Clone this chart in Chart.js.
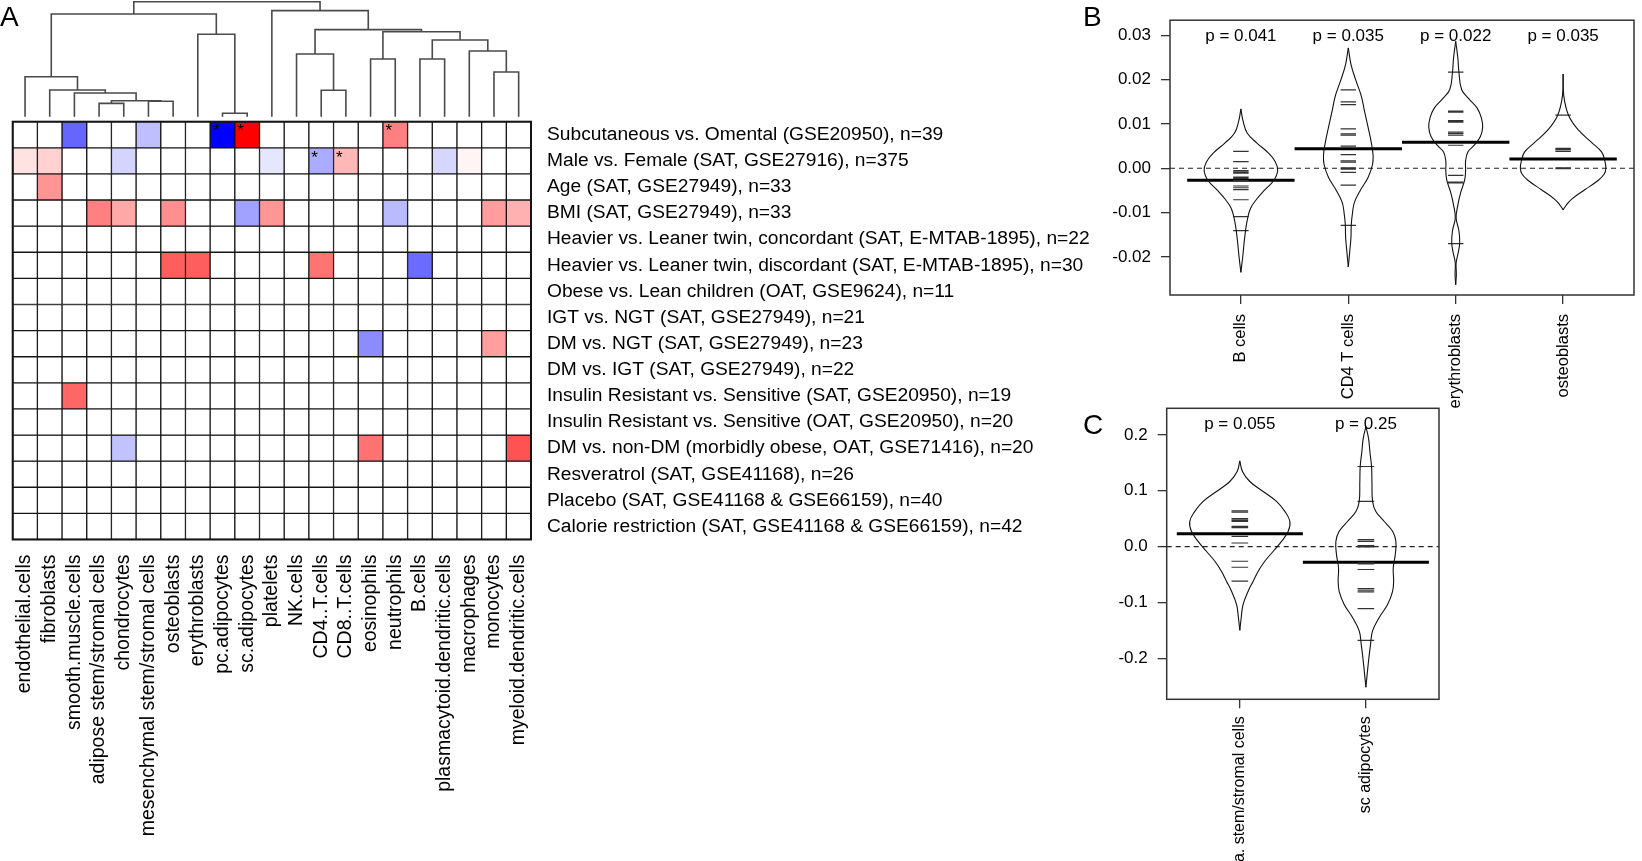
<!DOCTYPE html>
<html><head><meta charset="utf-8">
<script src="https://cdn.jsdelivr.net/npm/chart.js@4.4.1/dist/chart.umd.min.js"></script>
<style>
html,body{margin:0;padding:0;background:#fff;width:1642px;height:861px;overflow:hidden;position:relative;}
canvas{position:absolute;left:0;top:0;}
.lab{position:absolute;font-family:"Liberation Sans",Arial,sans-serif;font-size:28px;color:#000;line-height:1;}
</style></head><body>
<canvas id="dendro" width="1642" height="861"></canvas>
<canvas id="heat" width="1642" height="861"></canvas>
<canvas id="panelB" width="1642" height="861"></canvas>
<canvas id="panelC" width="1642" height="861"></canvas>
<div class="lab" style="left:0px;top:3px">A</div>
<div class="lab" style="left:1083px;top:3px">B</div>
<div class="lab" style="left:1083px;top:411px">C</div>
<script>
// ---------------- DATA ----------------
const columnLabels = ['endothelial.cells','fibroblasts','smooth.muscle.cells','adipose stem/stromal cells','chondrocytes',
  'mesenchymal stem/stromal cells','osteoblasts','erythroblasts','pc.adipocytes','sc.adipocytes','platelets','NK.cells',
  'CD4..T.cells','CD8..T.cells','eosinophils','neutrophils','B.cells','plasmacytoid.dendritic.cells','macrophages',
  'monocytes','myeloid.dendritic.cells'];
const rowLabels = ['Subcutaneous vs. Omental (GSE20950), n=39','Male vs. Female (SAT, GSE27916), n=375',
  'Age (SAT, GSE27949), n=33','BMI (SAT, GSE27949), n=33','Heavier vs. Leaner twin, concordant (SAT, E-MTAB-1895), n=22',
  'Heavier vs. Leaner twin, discordant (SAT, E-MTAB-1895), n=30','Obese vs. Lean children (OAT, GSE9624), n=11',
  'IGT vs. NGT (SAT, GSE27949), n=21','DM vs. NGT (SAT, GSE27949), n=23','DM vs. IGT (SAT, GSE27949), n=22',
  'Insulin Resistant vs. Sensitive (SAT, GSE20950), n=19','Insulin Resistant vs. Sensitive (OAT, GSE20950), n=20',
  'DM vs. non-DM (morbidly obese, OAT, GSE71416), n=20','Resveratrol (SAT, GSE41168), n=26',
  'Placebo (SAT, GSE41168 & GSE66159), n=40','Calorie restriction (SAT, GSE41168 & GSE66159), n=42'];
// signed scaled effect per cell (row x column), -1 = blue, +1 = red
const cellValues = [
  [0,0,-0.6,0,0,-0.25,0,0,-1,1,0,0,0,0,0,0.5,0,0,0,0,0],
  [0.11,0.18,0,0,-0.17,0,0,0,0,0,-0.1,0,-0.33,0.28,0,0,0,-0.16,0.04,0,0],
  [0,0.42,0,0,0,0,0,0,0,0,0,0,0,0,0,0,0,0,0,0,0],
  [0,0,0,0.5,0.34,0,0.44,0,0,-0.37,0.41,0,0,0,0,-0.27,0,0,0,0.39,0.31],
  [0,0,0,0,0,0,0,0,0,0,0,0,0,0,0,0,0,0,0,0,0],
  [0,0,0,0,0,0,0.63,0.63,0,0,0,0,0.55,0,0,0,-0.58,0,0,0,0],
  [0,0,0,0,0,0,0,0,0,0,0,0,0,0,0,0,0,0,0,0,0],
  [0,0,0,0,0,0,0,0,0,0,0,0,0,0,0,0,0,0,0,0,0],
  [0,0,0,0,0,0,0,0,0,0,0,0,0,0,-0.45,0,0,0,0,0.38,0],
  [0,0,0,0,0,0,0,0,0,0,0,0,0,0,0,0,0,0,0,0,0],
  [0,0,0.6,0,0,0,0,0,0,0,0,0,0,0,0,0,0,0,0,0,0],
  [0,0,0,0,0,0,0,0,0,0,0,0,0,0,0,0,0,0,0,0,0],
  [0,0,0,0,-0.24,0,0,0,0,0,0,0,0,0,0.55,0,0,0,0,0,0.68],
  [0,0,0,0,0,0,0,0,0,0,0,0,0,0,0,0,0,0,0,0,0],
  [0,0,0,0,0,0,0,0,0,0,0,0,0,0,0,0,0,0,0,0,0],
  [0,0,0,0,0,0,0,0,0,0,0,0,0,0,0,0,0,0,0,0,0]
];
const starCells = [[0,8],[0,9],[0,15],[1,12],[1,13]];
// hclust-style merges: negative = leaf (column index+1), positive = earlier merge; third = height (0..1)
const dendroMerges = [
  [-9,-10,0.03],[-4,-5,0.116],[-6,-7,0.134],[2,3,0.139],[-3,4,0.206],[-2,5,0.232],[-1,6,0.348],
  [-8,1,0.717],[7,8,0.893],[-13,-14,0.23],[-12,10,0.545],[-15,-16,0.502],[-17,-18,0.502],
  [-20,-21,0.389],[-19,14,0.571],[13,15,0.667],[12,16,0.739],[11,17,0.757],[-11,18,0.922],[9,19,1.0]
];

// Panel B (beanplots)
const catsB = ['B cells','CD4 T cells','erythroblasts','osteoblasts'];
const pValuesB = ['p = 0.041','p = 0.035','p = 0.022','p = 0.035'];
const meansB = [-0.0027,0.0044,0.0059,0.0021];
const obsBcells = [0.0038,0.0015,-0.0005,-0.0008,-0.0011,-0.002,-0.0023,-0.0028,-0.004,-0.0044,-0.0048,-0.0071,-0.0109,-0.0141];
const obsCD4 = [0.0177,0.015,0.0144,0.0089,0.0078,0.0075,0.005,0.0031,0.0017,0.0014,0.0001,-0.0002,-0.0009,-0.0038,-0.0129];
const obsEry = [0.0217,0.0129,0.0127,0.0108,0.0106,0.0104,0.0082,0.0079,0.0075,0.0052,-0.0016,-0.0031,-0.0033,-0.017];
const obsOst = [0.012,0.0045,0.0042,0.0038,0.0001,0,-0.0001];
// bean outline: [value, half-width in category units]
const beanBcells = [[0.0134,0],[0.0107,0.02],[0.0079,0.06],[0.0057,0.15],[0.0036,0.25],[0.0015,0.32],[-0.0006,0.342],[-0.0028,0.304],[-0.0049,0.222],[-0.007,0.146],[-0.0091,0.089],[-0.012,0.057],[-0.0155,0.036],[-0.0198,0.018],[-0.0235,0]];
const beanCD4 = [[0.0272,0],[0.0235,0.025],[0.0199,0.07],[0.0164,0.12],[0.0128,0.152],[0.0093,0.184],[0.0057,0.215],[0.0029,0.231],[0.0008,0.225],[-0.0021,0.184],[-0.0049,0.114],[-0.0077,0.057],[-0.0099,0.04],[-0.0127,0.028],[-0.0155,0.025],[-0.0184,0.015],[-0.0223,0]];
const beanEry = [[0.0287,0],[0.0249,0.02],[0.0217,0.03],[0.0178,0.055],[0.0157,0.123],[0.0136,0.2],[0.0114,0.239],[0.0093,0.251],[0.0072,0.23],[0.0051,0.168],[0.0037,0.113],[0.0016,0.092],[-0.0006,0.092],[-0.0027,0.083],[-0.0055,0.046],[-0.0083,0.02],[-0.0112,0.004],[-0.0141,0.03],[-0.0168,0.037],[-0.0189,0.025],[-0.0214,0.004],[-0.024,0.006],[-0.0263,0]];
const beanOst = [[0.0213,0],[0.0164,0.006],[0.012,0.05],[0.0086,0.144],[0.0058,0.267],[0.0037,0.358],[0.0016,0.389],[0,0.398],[-0.0013,0.383],[-0.0027,0.328],[-0.0048,0.205],[-0.0069,0.083],[-0.0083,0.03],[-0.0094,0]];
const yTicksB = [-0.02,-0.01,0,0.01,0.02,0.03];

// Panel C
const catsC = ['a. stem/stromal cells','sc adipocytes'];
const pValuesC = ['p = 0.055','p = 0.25'];
const meansC = [0.0232,-0.028];
const obsStem = [0.0643,0.0619,0.05,0.0476,0.0452,0.0363,0.034,0.0185,0.0065,-0.0262,-0.0369,-0.0619];
const obsSc = [0.1435,0.081,0.0125,0.0095,0.0018,-0.0005,-0.029,-0.031,-0.041,-0.075,-0.078,-0.081,-0.111,-0.168];
const beanStem = [[0.1536,0],[0.1345,0.021],[0.1167,0.079],[0.0988,0.185],[0.081,0.291],[0.0631,0.357],[0.0452,0.397],[0.0274,0.384],[0.0095,0.331],[-0.0083,0.265],[-0.0262,0.198],[-0.044,0.146],[-0.0619,0.106],[-0.0798,0.066],[-0.1036,0.026],[-0.1274,0.011],[-0.15,0]];
const beanSc = [[0.215,0],[0.194,0.021],[0.17,0.032],[0.1435,0.045],[0.1167,0.048],[0.081,0.053],[0.063,0.079],[0.045,0.146],[0.0274,0.212],[0.0095,0.238],[-0.0143,0.233],[-0.038,0.217],[-0.062,0.22],[-0.08,0.212],[-0.1036,0.172],[-0.127,0.106],[-0.151,0.053],[-0.175,0.037],[-0.205,0.021],[-0.252,0]];
const yTicksC = [-0.2,-0.1,0,0.1,0.2];

// ---------------- RENDER ----------------
const FONT = '"Liberation Sans", Arial, Helvetica, sans-serif';
Chart.defaults.font.family = FONT;
Chart.defaults.color = '#000';
Chart.defaults.animation = false;
const W = 1642, H = 861;

function cellColor(v){
  const t = Math.round(255*(1-Math.abs(v)));
  return v >= 0 ? `rgb(255,${t},${t})` : `rgb(${t},${t},255)`;
}

// Dendrogram
function dendroPoints(){
  const nx = [], nh = [], pts = [];
  const pos = id => id < 0 ? {x: -id - 0.5, h: 0} : {x: nx[id-1], h: nh[id-1]};
  dendroMerges.forEach(([a,b,h],k) => {
    const A = pos(a), B = pos(b);
    pts.push({x:A.x,y:A.h},{x:A.x,y:h},{x:B.x,y:h},{x:B.x,y:B.h},{x:NaN,y:NaN});
    nx[k] = (A.x+B.x)/2; nh[k] = h;
  });
  return pts;
}
new Chart(document.getElementById('dendro'), {
  type: 'scatter',
  data: { datasets: [{ data: dendroPoints(), showLine: true, pointRadius: 0, borderColor: '#4a4a4a', borderWidth: 1.6, tension: 0, clip: false }] },
  options: {
    responsive: false, events: [], animation: false,
    layout: { padding: { left: 12.7, right: W - 531, top: 1.7, bottom: H - 116.7 } },
    plugins: { legend: {display:false}, tooltip: {enabled:false} },
    scales: { x: { type:'linear', min:0, max:21, display:false }, y: { type:'linear', min:0, max:1, display:false } }
  }
});

// Heatmap
const heatDatasets = rowLabels.map((lab, r) => ({
  label: lab,
  data: columnLabels.map(() => [r, r+1]),
  backgroundColor: cellValues[r].map(cellColor),
  borderColor: '#151515', borderWidth: 1, borderSkipped: false,
  barPercentage: 1, categoryPercentage: 1, grouped: false
}));
const starPlugin = { id: 'stars', afterDatasetsDraw(chart){
  const {ctx, scales:{x, y}, chartArea} = chart;
  const bw = (chartArea.right - chartArea.left) / columnLabels.length;
  ctx.save(); ctx.font = `17px ${FONT}`; ctx.fillStyle = '#000'; ctx.textAlign = 'left'; ctx.textBaseline = 'top';
  starCells.forEach(([r,c]) => ctx.fillText('*', x.getPixelForValue(c) - bw/2 + 2.5, y.getPixelForValue(r) + 1.5));
  ctx.lineWidth = 2; ctx.strokeStyle = '#151515';
  ctx.strokeRect(chartArea.left, chartArea.top, chartArea.right - chartArea.left, chartArea.bottom - chartArea.top);
  ctx.restore();
}};
new Chart(document.getElementById('heat'), {
  type: 'bar',
  data: { labels: columnLabels, datasets: heatDatasets },
  options: {
    responsive: false, events: [], animation: false,
    layout: { padding: { left: 12.7, top: 121.7, right: 0, bottom: 0 } },
    plugins: { legend: {display:false}, tooltip: {enabled:false} },
    scales: {
      x: { type:'category', offset:true, grid:{display:false, drawTicks:false}, border:{display:false},
           ticks:{ autoSkip:false, minRotation:90, maxRotation:90, padding:15, font:{size:19.5}, color:'#000' },
           afterFit: s => { s.height = H - 539.5; } },
      y: { type:'linear', min:0, max:16, reverse:true, display:false },
      yr: { type:'category', labels: rowLabels, position:'right', offset:true, grid:{display:false, drawTicks:false},
            border:{display:false}, ticks:{ autoSkip:false, padding:16, font:{size:19.2}, color:'#000' },
            afterFit: s => { s.width = W - 531; } }
    }
  },
  plugins: [starPlugin]
});

// Beanplots
function lineDs(data, width, color, tension, extra){
  return Object.assign({ data, showLine:true, pointRadius:0, borderColor:color, borderWidth:width, tension, fill:false, clip:false }, extra || {});
}
function beanDatasets(profiles, obs, means, halfLine, xmin, xmax){
  const ds = [];
  profiles.forEach((prof, i) => {
    const c = i + 1;
    ds.push(lineDs(prof.map(([v,w]) => ({x:c-w, y:v})), 1.1, '#111', 0.4));
    ds.push(lineDs(prof.map(([v,w]) => ({x:c+w, y:v})), 1.1, '#111', 0.4));
    const segs = [];
    obs[i].forEach(v => segs.push({x:c-halfLine,y:v},{x:c+halfLine,y:v},{x:NaN,y:NaN}));
    ds.push(lineDs(segs, 1.2, '#333', 0));
    ds.push(lineDs([{x:c-0.5,y:means[i]},{x:c+0.5,y:means[i]}], 3, '#000', 0));
  });
  ds.push(lineDs([{x:xmin,y:0},{x:xmax,y:0}], 1.1, '#222', 0, {borderDash:[5,4]}));
  return ds;
}
function panelPlugins(pvals, offset){
  return [{ id:'panelText', afterDatasetsDraw(chart){
    const {ctx, scales:{x}, chartArea} = chart;
    ctx.save();
    ctx.lineWidth = 1.5; ctx.strokeStyle = '#333';
    ctx.strokeRect(chartArea.left, chartArea.top, chartArea.right - chartArea.left, chartArea.bottom - chartArea.top);
    ctx.font = `17px ${FONT}`; ctx.fillStyle = '#000'; ctx.textAlign = 'center'; ctx.textBaseline = 'middle';
    pvals.forEach((t,i) => ctx.fillText(t, x.getPixelForValue(i+1), chartArea.top + offset));
    ctx.restore();
  }}];
}
function beanChart(id, cfg){
  new Chart(document.getElementById(id), {
    type: 'scatter',
    data: { datasets: beanDatasets(cfg.profiles, cfg.obs, cfg.means, cfg.halfLine, cfg.xmin, cfg.xmax) },
    options: {
      responsive: false, events: [], animation: false,
      layout: { padding: { left: 1000, right: W - cfg.right, top: cfg.top, bottom: 0 } },
      plugins: { legend: {display:false}, tooltip: {enabled:false} },
      scales: {
        x: { type:'linear', min:cfg.xmin, max:cfg.xmax,
             afterBuildTicks: s => { s.ticks = cfg.cats.map((_,i) => ({value:i+1})); },
             grid:{ drawOnChartArea:false, drawTicks:true, tickLength:9, color:'#333', lineWidth:1.3 },
             border:{display:false},
             ticks:{ autoSkip:false, minRotation:90, maxRotation:90, padding:cfg.xPad, font:{size:cfg.xFont}, color:'#000',
                     callback: v => cfg.cats[Math.round(v)-1] },
             afterFit: s => { s.height = H - cfg.bottom; } },
        y: { type:'linear', min:cfg.ymin, max:cfg.ymax,
             afterBuildTicks: s => { s.ticks = cfg.yticks.map(v => ({value:v})); },
             grid:{ drawOnChartArea:false, drawTicks:true, tickLength:9, color:'#333', lineWidth:1.3 },
             border:{display:false},
             ticks:{ autoSkip:false, padding:10, font:{size:17}, color:'#000', callback: v => v.toFixed(cfg.dec) },
             afterFit: s => { s.width = cfg.left - 1000; } }
      }
    },
    plugins: panelPlugins(cfg.pvals, cfg.pOffset)
  });
}
beanChart('panelB', { profiles:[beanBcells,beanCD4,beanEry,beanOst], obs:[obsBcells,obsCD4,obsEry,obsOst], means:meansB,
  halfLine:0.072, xmin:0.34, xmax:4.66, cats:catsB, pvals:pValuesB, pOffset:16.5, yticks:yTicksB, dec:2,
  xPad:10, xFont:16.5,
  ymin:-0.02862, ymax:0.03345, left:1170, right:1634, top:3.3, bottom:295 });
beanChart('panelC', { profiles:[beanStem,beanSc], obs:[obsStem,obsSc], means:meansC,
  halfLine:0.066, xmin:0.42, xmax:2.58, cats:catsC, pvals:pValuesC, pOffset:16, yticks:yTicksC, dec:1,
  xPad:8, xFont:16,
  ymin:-0.2735, ymax:0.2478, left:1166.7, right:1439, top:408.3, bottom:699.3 });
</script>
</body></html>
